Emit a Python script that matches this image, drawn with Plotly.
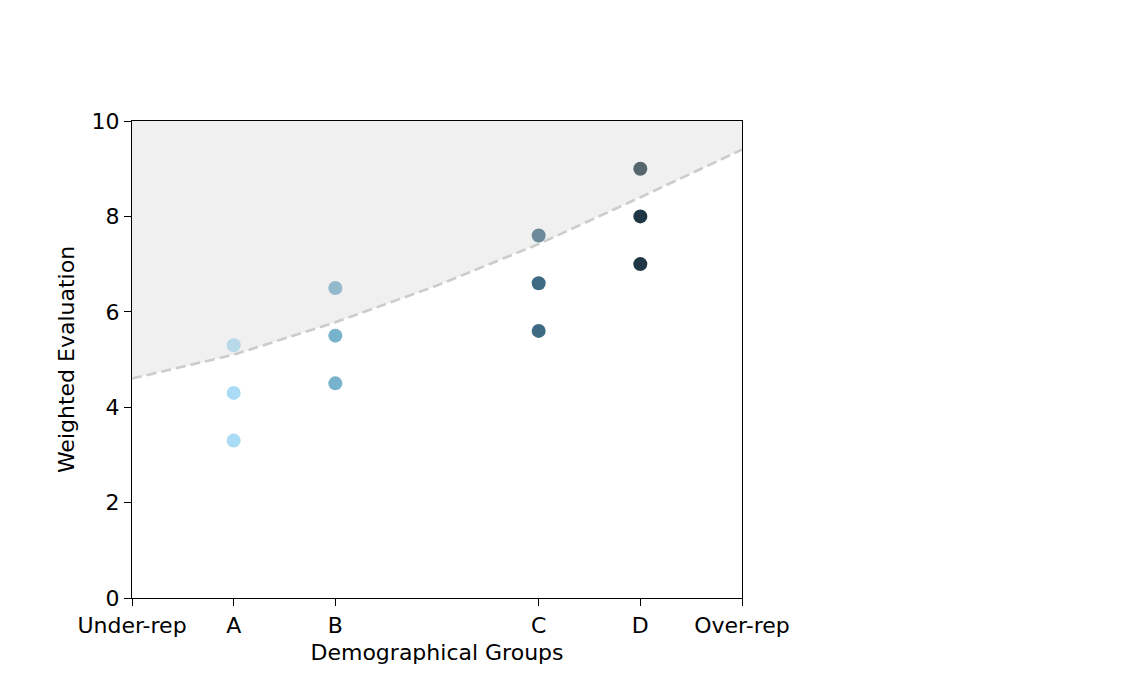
import plotly.graph_objects as go

# x positions of the groups on the representation scale
tick_pos = [0, 1, 2, 4, 5, 6]
tick_text = ["Under-rep", "A", "B", "C", "D", "Over-rep"]

group_x = [1, 2, 4, 5]
upper_vals = [5.3, 6.5, 7.6, 9.0]
middle_vals = [4.3, 5.5, 6.6, 8.0]
lower_vals = [3.3, 4.5, 5.6, 7.0]

group_colors = ["#aadcf5", "#78b3cd", "#3e6b83", "#1f3744"]
upper_colors = ["#b7d9ea", "#92b9cc", "#6c8a9a", "#56666d"]

# threshold curve
curve_x = [0, 1, 2, 3, 4, 5, 6]
curve_y = [4.6, 5.1, 5.78, 6.55, 7.42, 8.4, 9.4]
top_y = [10, 10, 10, 10, 10, 10, 10]

fig = go.Figure()

fig.add_trace(go.Scatter(x=curve_x, y=top_y, mode="lines",
                         line=dict(width=0), showlegend=False, hoverinfo="skip"))
fig.add_trace(go.Scatter(x=curve_x, y=curve_y, mode="lines", fill="tonexty",
                         fillcolor="#f0f0f0",
                         line=dict(color="#cccccc", width=2.6, dash="10px,5px"),
                         showlegend=False))

for vals, cols in [(lower_vals, group_colors), (middle_vals, group_colors), (upper_vals, upper_colors)]:
    fig.add_trace(go.Scatter(x=group_x, y=vals, mode="markers",
                             marker=dict(color=cols, size=14, line=dict(width=0)),
                             showlegend=False))

axis_style = dict(showgrid=False, zeroline=False, showline=True, linecolor="black",
                  linewidth=1.4, mirror=True, ticks="outside", ticklen=7,
                  tickwidth=1.4, tickcolor="black",
                  tickfont=dict(family="DejaVu Sans", size=22, color="black"))

fig.update_xaxes(range=[0, 6], tickvals=tick_pos, ticktext=tick_text,
                 title=dict(text="Demographical Groups", standoff=8,
                            font=dict(family="DejaVu Sans", size=22, color="black")),
                 **axis_style)
fig.update_yaxes(range=[0, 10], tickvals=[0, 2, 4, 6, 8, 10],
                 title=dict(text="Weighted Evaluation", standoff=10,
                            font=dict(family="DejaVu Sans", size=22, color="black")),
                 **axis_style)

fig.update_layout(width=1136, height=695,
                  margin=dict(l=124, r=402, t=113, b=105, autoexpand=False),
                  plot_bgcolor="white", paper_bgcolor="white",
                  font=dict(family="DejaVu Sans", color="black"))

fig.write_html("out.html")
